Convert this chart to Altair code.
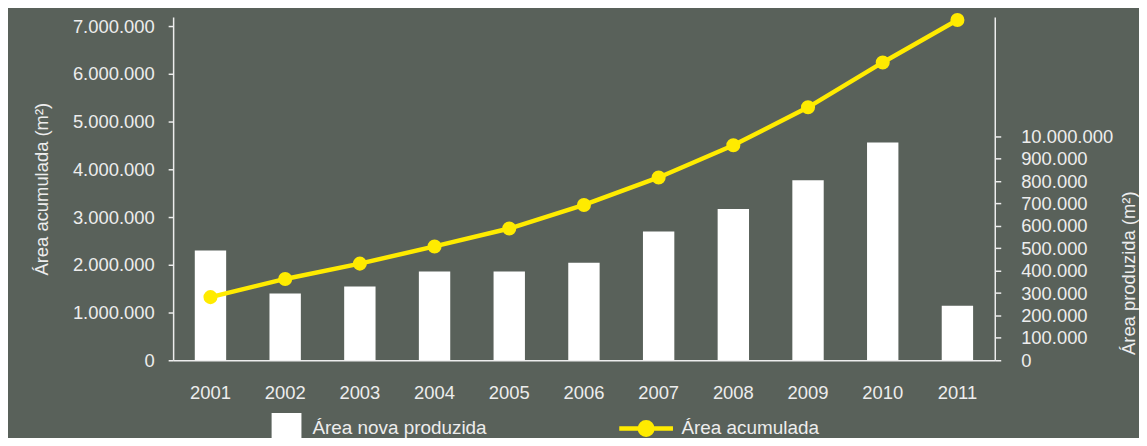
import altair as alt
import pandas as pd

years = ["2001", "2002", "2003", "2004", "2005", "2006", "2007", "2008", "2009", "2010", "2011"]
area_nova = [490000, 298000, 330000, 396000, 396000, 436000, 575000, 676000, 804000, 973000, 244000]
area_acum = [1323000, 1704000, 2025000, 2385000, 2760000, 3254000, 3830000, 4504000, 5300000, 6240000, 7130000]
left_ticks = [0, 1000000, 2000000, 3000000, 4000000, 5000000, 6000000, 7000000]
right_ticks = [0, 100000, 200000, 300000, 400000, 500000, 600000, 700000, 800000, 900000, 1000000]
legend_bar = "Área nova produzida"
legend_line = "Área acumulada"
title_left = "Área acumulada (m²)"
title_right = "Área produzida (m²)"

df = pd.DataFrame({"ano": years, "nova": area_nova, "acum": area_acum})
df["serie_bar"] = legend_bar
df["serie_line"] = legend_line

BG = "#59615A"
FG = "#EDEDED"
YEL = "#FFEB00"
FONT = "Liberation Sans"
LINE_SYMBOL = "M-1.5,0H-0.35A0.35,0.35,0,1,1,0.35,0A0.35,0.35,0,1,1,-0.35,0M0.35,0H1.5"

x = alt.X(
    "ano:N", sort=years, title=None,
    scale=alt.Scale(paddingInner=0.58, paddingOuter=0.29),
    axis=alt.Axis(labelAngle=0, ticks=False, labelPadding=23),
)

bars = alt.Chart(df).mark_bar(color="white").encode(
    x=x,
    y=alt.Y(
        "nova:Q",
        scale=alt.Scale(domain=[0, 1533000], nice=False, zero=True),
        axis=alt.Axis(
            orient="right", values=right_ticks, format=",.0f",
            labelExpr="datum.value == 1000000 ? '10.000.000' : datum.label",
            title=title_right, titleAngle=270, titleX=134, titleY=257,
            titleBaseline="middle", tickSize=6, labelPadding=20,
        ),
    ),
    fill=alt.Fill(
        "serie_bar:N",
        scale=alt.Scale(domain=[legend_bar], range=["white"]),
        legend=alt.Legend(
            orient="none", legendX=99, legendY=398, symbolType="square",
            symbolSize=900, labelOffset=11, labelLimit=400, title=None,
            symbolStrokeWidth=0,
        ),
    ),
)

y_left = alt.Y(
    "acum:Q",
    scale=alt.Scale(domain=[0, 7190000], nice=False, zero=True),
    axis=alt.Axis(
        orient="left", values=left_ticks, format=",.0f", title=title_left,
        tickSize=5, labelPadding=14, titlePadding=21,
    ),
)

line = alt.Chart(df).mark_line(strokeWidth=4.5).encode(
    x=x,
    y=y_left,
    stroke=alt.Stroke(
        "serie_line:N",
        scale=alt.Scale(domain=[legend_line], range=[YEL]),
        legend=alt.Legend(
            orient="none", legendX=455, legendY=393, symbolType=LINE_SYMBOL,
            symbolSize=1296, symbolStrokeWidth=4.5, symbolFillColor=YEL,
            labelOffset=15, labelLimit=400, title=None,
        ),
    ),
)

points = alt.Chart(df).mark_circle(size=200, color=YEL, opacity=1).encode(
    x=x,
    y=alt.Y("acum:Q"),
)

chart = (
    alt.layer(bars, alt.layer(line, points))
    .resolve_scale(y="independent")
    .properties(
        width=826, height=345,
        autosize=alt.AutoSizeParams(type="none"),
        padding={"left": 166, "top": 8, "right": 145, "bottom": 77},
        background=BG,
    )
    .configure_view(stroke=None)
    .configure_axis(
        grid=False, domainColor=FG, tickColor=FG, labelColor=FG, titleColor=FG,
        labelFont=FONT, titleFont=FONT, labelFontSize=18.5, titleFontSize=18.5,
        titleFontWeight="normal", domainWidth=1.5, tickWidth=1.5,
    )
    .configure_legend(
        labelColor=FG, labelFont=FONT, labelFontSize=19, padding=0,
    )
)

chart.save(
    "out.html",
    embed_options={
        "renderer": "svg",
        "actions": False,
        "formatLocale": {
            "decimal": ",",
            "thousands": ".",
            "grouping": [3],
            "currency": ["R$", ""],
        },
    },
)
